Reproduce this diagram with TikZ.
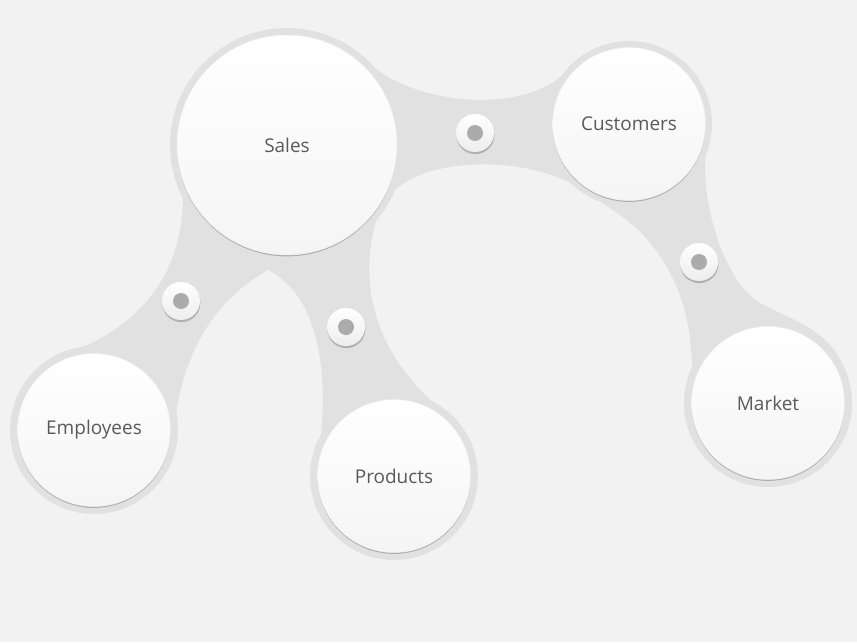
\documentclass[tikz,border=0pt]{standalone}
\usepackage{fontspec}
\setmainfont{Open Sans}
\usetikzlibrary{shadows,backgrounds}
\definecolor{pagegray}{HTML}{F2F2F2}
\definecolor{bandgray}{HTML}{E1E1E1}
\definecolor{labelgray}{HTML}{5A5A5A}
\definecolor{dotgray}{HTML}{ABABAB}
\tikzset{
  bubble/.style={circle, inner sep=0pt, top color=white, bottom color=black!4,
    draw=black!6, line width=0.3pt, text=labelgray, font=\fontsize{10.8}{13}\selectfont,
    drop shadow={shadow xshift=0pt, shadow yshift=-0.8pt, opacity=0.6, fill=black!45}},
  knob/.style={circle, inner sep=0pt, minimum size=0.76cm, top color=white, bottom color=black!7,
    drop shadow={shadow xshift=0.2pt, shadow yshift=-1.2pt, opacity=0.5, fill=black!50}},
  pin/.style={circle, inner sep=0pt, minimum size=0.32cm, fill=dotgray},
  band/.style={fill=bandgray},
}
\begin{document}
\begin{tikzpicture}[x=0.02cm, y=-0.02cm]
\useasboundingbox (0,0) rectangle (857,642);
\node[bubble, minimum size=4.4cm] (sales) at (287,145) {Sales};
\node[bubble, minimum size=3.06cm] (customers) at (629,124) {Customers};
\node[bubble, minimum size=3.06cm] (employees) at (94,430) {Employees};
\node[bubble, minimum size=3.06cm] (products) at (394,476) {Products};
\node[bubble, minimum size=3.06cm] (market) at (768,403) {Market};
% knobs on the bands
\node[knob] (k_sc) at (475,133) {};
\node[pin] (p_sc) at (k_sc) {};
\node[knob] (k_se) at (181,301) {};
\node[pin] (p_se) at (k_se) {};
\node[knob] (k_sp) at (346,327) {};
\node[pin] (p_sp) at (k_sp) {};
\node[knob] (k_cm) at (699,262) {};
\node[pin] (p_cm) at (k_cm) {};
\begin{scope}[on background layer]
\fill[pagegray] (0,0) rectangle (857,642);
\foreach \n/\r in {sales/117, customers/83, employees/84, products/84, market/84}
  \fill[band] (\n.center) circle (\r);
% sales - customers
\fill[band] (370,63) .. controls (405,100) and (515,118) .. (564,74)
  -- (customers.center) -- (580,190) .. controls (545,160) and (430,150) .. (390,195)
  -- (sales.center) -- cycle;
% customers - market
\fill[band] (706,150) .. controls (700,205) and (725,282) .. (760,303)
  .. controls (790,320) and (838,330) .. (848,382)
  -- (market.center) -- (692,365) .. controls (690,280) and (650,230) .. (600,202)
  -- (customers.center) -- cycle;
% sales - products
\fill[band] (268,270) .. controls (312,292) and (330,355) .. (320,445)
  -- (products.center) -- (452,418) .. controls (368,355) and (358,275) .. (378,215)
  -- (sales.center) -- cycle;
% sales - employees
\fill[band] (183,198) .. controls (182,275) and (140,330) .. (57,357)
  -- (employees.center) -- (176,415) .. controls (185,350) and (215,300) .. (268,270)
  -- (sales.center) -- cycle;
\end{scope}
\end{tikzpicture}
\end{document}
